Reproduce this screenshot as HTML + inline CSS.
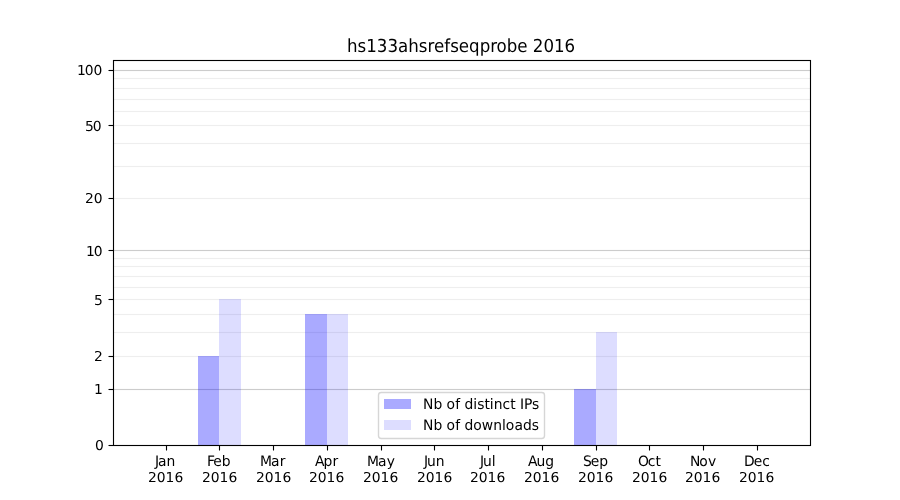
<!DOCTYPE html>
<html lang="en"><head><meta charset="utf-8"><title>hs133ahsrefseqprobe 2016</title>
<style>
html,body{margin:0;padding:0;background:#fff;}
body{width:900px;height:500px;overflow:hidden;}
svg{display:block;}
text{text-rendering:geometricPrecision;font-family:"DejaVu Sans","Liberation Sans",sans-serif;fill:#000;}
.t10{font-size:13.8889px;}
.t12{font-size:16.6667px;}
.sp{fill:none;stroke:#000;stroke-width:1.1111;stroke-linecap:square;}
.tk{stroke:#000;stroke-width:1.1111;}
.b1{fill:#00f;fill-opacity:0.3333;}
.b2{fill:#00f;fill-opacity:0.1333;}
</style></head><body>
<svg width="900" height="500" viewBox="0 0 900 500">
<rect x="0" y="0" width="900" height="500" fill="#fff"/>
<g shape-rendering="crispEdges">
<rect x="114" y="388" width="696" height="3" fill="#fcfcfc"/>
<rect x="114" y="389" width="696" height="1" fill="#ccc"/>
<rect x="114" y="249" width="696" height="3" fill="#fcfcfc"/>
<rect x="114" y="250" width="696" height="1" fill="#ccc"/>
<rect x="114" y="69" width="696" height="3" fill="#fcfcfc"/>
<rect x="114" y="70" width="696" height="1" fill="#ccc"/>
<rect x="114" y="355" width="696" height="3" fill="#fefefe"/>
<rect x="114" y="356" width="696" height="1" fill="#eee"/>
<rect x="114" y="331" width="696" height="3" fill="#fefefe"/>
<rect x="114" y="332" width="696" height="1" fill="#eee"/>
<rect x="114" y="313" width="696" height="3" fill="#fefefe"/>
<rect x="114" y="314" width="696" height="1" fill="#eee"/>
<rect x="114" y="298" width="696" height="3" fill="#fefefe"/>
<rect x="114" y="299" width="696" height="1" fill="#eee"/>
<rect x="114" y="286" width="696" height="3" fill="#fefefe"/>
<rect x="114" y="287" width="696" height="1" fill="#eee"/>
<rect x="114" y="275" width="696" height="3" fill="#fefefe"/>
<rect x="114" y="276" width="696" height="1" fill="#eee"/>
<rect x="114" y="265" width="696" height="3" fill="#fefefe"/>
<rect x="114" y="266" width="696" height="1" fill="#eee"/>
<rect x="114" y="257" width="696" height="3" fill="#fefefe"/>
<rect x="114" y="258" width="696" height="1" fill="#eee"/>
<rect x="114" y="197" width="696" height="3" fill="#fefefe"/>
<rect x="114" y="198" width="696" height="1" fill="#eee"/>
<rect x="114" y="165" width="696" height="3" fill="#fefefe"/>
<rect x="114" y="166" width="696" height="1" fill="#eee"/>
<rect x="114" y="142" width="696" height="3" fill="#fefefe"/>
<rect x="114" y="143" width="696" height="1" fill="#eee"/>
<rect x="114" y="124" width="696" height="3" fill="#fefefe"/>
<rect x="114" y="125" width="696" height="1" fill="#eee"/>
<rect x="114" y="110" width="696" height="3" fill="#fefefe"/>
<rect x="114" y="111" width="696" height="1" fill="#eee"/>
<rect x="114" y="98" width="696" height="3" fill="#fefefe"/>
<rect x="114" y="99" width="696" height="1" fill="#eee"/>
<rect x="114" y="87" width="696" height="3" fill="#fefefe"/>
<rect x="114" y="88" width="696" height="1" fill="#eee"/>
<rect x="114" y="77" width="696" height="3" fill="#fefefe"/>
<rect x="114" y="78" width="696" height="1" fill="#eee"/>
</g>
<g shape-rendering="crispEdges">
<rect class="b1" x="198" y="356" width="21" height="89"/>
<rect class="b2" x="219" y="299" width="22" height="146"/>
<rect class="b1" x="305" y="314" width="22" height="131"/>
<rect class="b2" x="327" y="314" width="21" height="131"/>
<rect class="b1" x="574" y="389" width="22" height="56"/>
<rect class="b2" x="596" y="332" width="21" height="113"/>
</g>
<g>
<line class="tk" x1="166.5" y1="445.5" x2="166.5" y2="450.5"/>
<line class="tk" x1="219.5" y1="445.5" x2="219.5" y2="450.5"/>
<line class="tk" x1="273.5" y1="445.5" x2="273.5" y2="450.5"/>
<line class="tk" x1="327.5" y1="445.5" x2="327.5" y2="450.5"/>
<line class="tk" x1="381.5" y1="445.5" x2="381.5" y2="450.5"/>
<line class="tk" x1="434.5" y1="445.5" x2="434.5" y2="450.5"/>
<line class="tk" x1="488.5" y1="445.5" x2="488.5" y2="450.5"/>
<line class="tk" x1="542.5" y1="445.5" x2="542.5" y2="450.5"/>
<line class="tk" x1="596.5" y1="445.5" x2="596.5" y2="450.5"/>
<line class="tk" x1="649.5" y1="445.5" x2="649.5" y2="450.5"/>
<line class="tk" x1="703.5" y1="445.5" x2="703.5" y2="450.5"/>
<line class="tk" x1="757.5" y1="445.5" x2="757.5" y2="450.5"/>
<line class="tk" x1="108.5" y1="445.5" x2="113.5" y2="445.5"/>
<line class="tk" x1="108.5" y1="389.5" x2="113.5" y2="389.5"/>
<line class="tk" x1="108.5" y1="356.5" x2="113.5" y2="356.5"/>
<line class="tk" x1="108.5" y1="299.5" x2="113.5" y2="299.5"/>
<line class="tk" x1="108.5" y1="250.5" x2="113.5" y2="250.5"/>
<line class="tk" x1="108.5" y1="198.5" x2="113.5" y2="198.5"/>
<line class="tk" x1="108.5" y1="125.5" x2="113.5" y2="125.5"/>
<line class="tk" x1="108.5" y1="70.5" x2="113.5" y2="70.5"/>
</g>
<rect class="sp" x="113.5" y="60.5" width="697" height="385"/>
<text class="t10" x="94.887" transform="translate(0 449.527) scale(1 0.9800)">0</text>
<text class="t10" x="93.887" transform="translate(0 393.504) scale(1 0.9850)">1</text>
<text class="t10" x="93.887" transform="translate(0 360.549) scale(1 0.9800)">2</text>
<text class="t10" x="93.887" transform="translate(0 304.526) scale(1 1.0000)">5</text>
<text class="t10" x="85.934 93.746" transform="translate(0 255.513) scale(1 0.9900)">10</text>
<text class="t10" x="84.934 93.746" transform="translate(0 202.521) scale(1 0.9800)">20</text>
<text class="t10" x="84.934 92.746" transform="translate(0 130.530) scale(1 1.0000)">50</text>
<text class="t10" x="76.887 84.841 93.434" transform="translate(0 74.558) scale(1 0.9900)">100</text>
<text class="t10" x="154.931 158.072 166.588" transform="translate(0 465.526) scale(1 1.0450)">Jan</text>
<text class="t10" x="147.901 156.714 165.542 174.495" transform="translate(0 481.516) scale(1 0.9800)">2016</text>
<text class="t10" x="206.892 213.361 221.658" transform="translate(0 465.526) scale(1 1.0450)">Feb</text>
<text class="t10" x="201.950 210.762 219.591 228.419" transform="translate(0 481.516) scale(1 0.9800)">2016</text>
<text class="t10" x="259.882 270.976 279.741" transform="translate(0 465.526) scale(1 1.0450)">Mar</text>
<text class="t10" x="255.936 264.749 273.577 282.405" transform="translate(0 481.516) scale(1 0.9800)">2016</text>
<text class="t10" x="314.957 323.441 332.379" transform="translate(0 465.526) scale(1 1.0450)">Apr</text>
<text class="t10" x="308.923 317.736 326.564 335.392" transform="translate(0 481.516) scale(1 0.9800)">2016</text>
<text class="t10" x="366.975 377.944 386.709" transform="translate(0 465.526) scale(1 1.0250)">May</text>
<text class="t10" x="362.909 371.721 380.550 389.378" transform="translate(0 481.516) scale(1 0.9800)">2016</text>
<text class="t10" x="423.906 426.984 435.781" transform="translate(0 465.526) scale(1 1.0400)">Jun</text>
<text class="t10" x="416.896 425.709 434.537 443.490" transform="translate(0 481.516) scale(1 0.9800)">2016</text>
<text class="t10" x="479.927 483.005 491.802" transform="translate(0 465.526) scale(1 1.0500)">Jul</text>
<text class="t10" x="469.945 478.757 487.586 496.414" transform="translate(0 481.516) scale(1 0.9800)">2016</text>
<text class="t10" x="527.920 536.420 545.217" transform="translate(0 465.526) scale(1 1.0450)">Aug</text>
<text class="t10" x="523.931 532.744 541.572 550.400" transform="translate(0 481.516) scale(1 0.9800)">2016</text>
<text class="t10" x="582.876 590.798 599.220" transform="translate(0 465.526) scale(1 1.0450)">Sep</text>
<text class="t10" x="577.918 586.731 595.559 604.387" transform="translate(0 481.516) scale(1 0.9800)">2016</text>
<text class="t10" x="637.883 647.867 655.446" transform="translate(0 465.526) scale(1 1.0200)">Oct</text>
<text class="t10" x="631.904 640.716 649.545 658.498" transform="translate(0 481.516) scale(1 0.9800)">2016</text>
<text class="t10" x="689.885 699.135 707.885" transform="translate(0 465.526) scale(1 1.0200)">Nov</text>
<text class="t10" x="684.953 693.765 702.594 711.422" transform="translate(0 481.516) scale(1 0.9800)">2016</text>
<text class="t10" x="743.925 753.862 762.159" transform="translate(0 465.526) scale(1 1.0400)">Dec</text>
<text class="t10" x="738.940 747.753 756.581 765.409" transform="translate(0 481.516) scale(1 0.9800)">2016</text>
<text class="t12" x="346.969 357.516 366.203 376.797 387.391 397.984 408.188 418.750 427.422 433.906 444.156 450.141 458.703 468.953 479.641 490.219 496.453 506.641 517.219 527.453 532.750 543.484 553.953 564.547" transform="translate(0 51.542) scale(1 1.0800)">hs133ahsrefseqprobe 2016</text>
<g>
<rect x="378.5" y="392.5" width="166" height="46" rx="2.78" ry="2.78" fill="#fff" fill-opacity="0.8" stroke="#ccc" stroke-opacity="0.8" stroke-width="1.3889"/>
<g shape-rendering="crispEdges">
<rect class="b1" x="384" y="399" width="27" height="10"/>
<rect class="b2" x="384" y="420" width="27" height="10"/>
</g>
<text class="t10" x="423.120 433.495 442.292 446.464 455.198 460.089 464.495 473.308 477.151 484.386 489.823 493.683 502.479 510.229 515.542 519.948 523.917 532.042" transform="translate(0 408.538) scale(1 1.0450)">Nb of distinct IPs</text>
<text class="t10" x="422.932 433.463 442.166 446.604 455.135 460.041 464.479 473.323 481.838 493.213 502.041 505.682 514.448 522.979 531.823" transform="translate(0 429.549) scale(1 1.0450)">Nb of downloads</text>
</g>
</svg>
</body></html>
